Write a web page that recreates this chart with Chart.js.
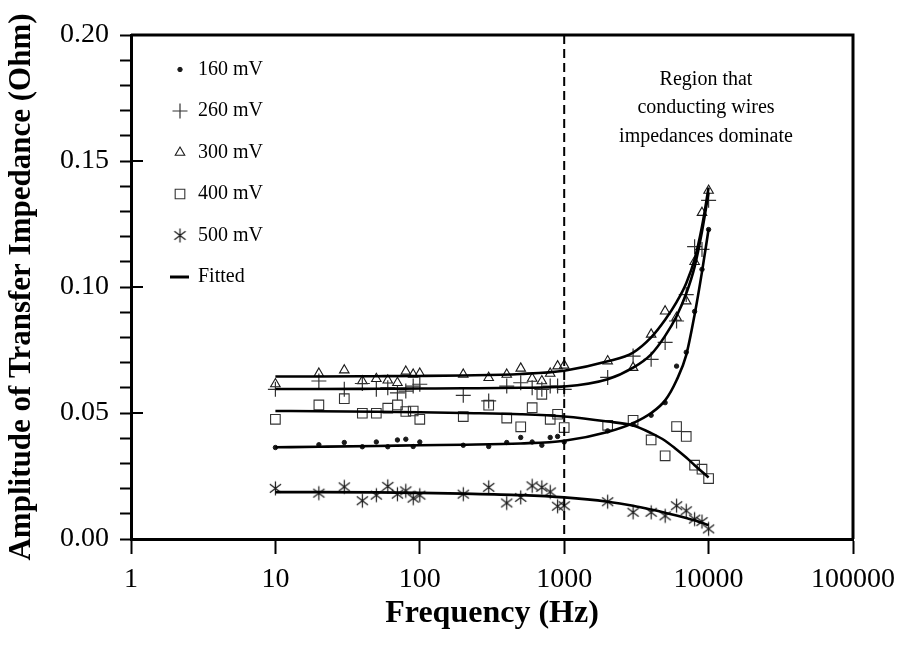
<!DOCTYPE html>
<html>
<head>
<meta charset="utf-8">
<script src="https://cdn.jsdelivr.net/npm/chart.js@4"></script>
<style>
  body { margin: 0; background: #fff; }
</style>
</head>
<body>
<canvas id="chart" width="904" height="661"></canvas>
<script>
// measured frequencies (Hz)
const freq = [10,20,30,40,50,60,70,80,90,100,200,300,400,500,600,700,800,900,1000,
  2000,3000,4000,5000,6000,7000,8000,9000,10000];

// measured amplitudes (Ohm)
const v160 = [0.0363,0.0374,0.0383,0.0366,0.0385,0.0366,0.0393,0.0396,0.0367,0.0385,
  0.0372,0.0367,0.0383,0.0403,0.0385,0.0372,0.0403,0.0407,0.0385,
  0.0429,0.0455,0.0491,0.0541,0.0686,0.0741,0.0903,0.1070,0.1228];
const v260 = [0.0594,0.0627,0.0594,0.0617,0.0594,0.0600,0.0580,0.0587,0.0607,0.0614,
  0.0570,0.0548,0.0607,0.0620,0.0600,0.0594,0.0607,0.0607,0.0594,
  0.0641,0.0726,0.0713,0.0780,0.0865,0.0970,0.1160,0.1149,0.1344];
const v300 = [0.0615,0.0657,0.0670,0.0627,0.0636,0.0630,0.0620,0.0665,0.0653,0.0657,
  0.0653,0.0640,0.0653,0.0677,0.0637,0.0627,0.0657,0.0686,0.0689,
  0.0706,0.0680,0.0812,0.0904,0.0879,0.0944,0.1100,0.1295,0.1383];
const v400 = [0.0475,0.0532,0.0557,0.0499,0.0499,0.0519,0.0532,0.0506,0.0508,0.0475,
  0.0486,0.0531,0.0480,0.0445,0.0521,0.0574,0.0475,0.0495,0.0442,
  0.0451,0.0471,0.0393,0.0330,0.0446,0.0407,0.0293,0.0277,0.0240];
const v500 = [0.0201,0.0182,0.0207,0.0152,0.0174,0.0209,0.0178,0.0191,0.0162,0.0174,
  0.0178,0.0205,0.0143,0.0165,0.0211,0.0205,0.0187,0.0130,0.0132,
  0.0148,0.0106,0.0106,0.0092,0.0132,0.0112,0.0079,0.0069,0.0040];

// fitted curves
const fitFreq = [10,20,50,100,200,500,1000,2000,3000,4000,5000,6000,7000,8000,9000,10000];
const fit160 = [0.0364,0.0366,0.0369,0.0372,0.0374,0.0379,0.0390,0.0425,0.0460,0.0500,0.0550,0.0630,0.0730,0.0890,0.1060,0.1230];
const fit260 = [0.0595,0.0595,0.0596,0.0597,0.0598,0.0600,0.0605,0.0634,0.0680,0.0733,0.0806,0.0884,0.0974,0.1080,0.1220,0.1375];
const fit300 = [0.0645,0.0645,0.0646,0.0647,0.0649,0.0655,0.0668,0.0705,0.0740,0.0800,0.0870,0.0940,0.1015,0.1110,0.1240,0.1395];
const fit400 = [0.0508,0.0507,0.0505,0.0503,0.0500,0.0495,0.0486,0.0466,0.0450,0.0420,0.0390,0.0355,0.0323,0.0293,0.0267,0.0244];
const fit500 = [0.0186,0.0186,0.0185,0.0183,0.0180,0.0174,0.0165,0.0148,0.0132,0.0117,0.0104,0.0093,0.0083,0.0074,0.0064,0.0055];

const seriesLabels = ['160 mV','260 mV','300 mV','400 mV','500 mV'];
const fitLabel = 'Fitted';
const xTicks = [1,10,100,1000,10000,100000];
const yMajor = [0, 0.05, 0.10, 0.15, 0.20];
const dividerFreq = 1000;
const noteLines = ['Region that','conducting wires','impedances dominate'];

const SERIF = '"Liberation Serif", "Times New Roman", serif';
const INK = '#1a1a1a';

function asterisk(r) {
  const s = Math.ceil(2 * r + 3);
  const c = document.createElement('canvas');
  c.width = s; c.height = s;
  const g = c.getContext('2d');
  const m = s / 2;
  g.strokeStyle = INK;
  g.lineWidth = 1.2;
  g.beginPath();
  g.moveTo(m, m - r); g.lineTo(m, m + r);
  g.moveTo(m - 0.8 * r, m - 0.62 * r); g.lineTo(m + 0.8 * r, m + 0.62 * r);
  g.moveTo(m - 0.8 * r, m + 0.62 * r); g.lineTo(m + 0.8 * r, m - 0.62 * r);
  g.stroke();
  return c;
}

const pts = (xs, ys) => xs.map((x, i) => ({x, y: ys[i]}));

const markers = [
  {pointStyle: 'circle', pointRadius: 2.2, backgroundColor: INK, borderColor: INK, borderWidth: 1},
  {pointStyle: 'cross', pointRadius: 7.5, backgroundColor: 'transparent', borderColor: '#333', borderWidth: 1.2},
  {pointStyle: 'triangle', pointRadius: 5.5, backgroundColor: 'transparent', borderColor: INK, borderWidth: 1.1},
  {pointStyle: 'rect', pointRadius: 6.8, backgroundColor: 'transparent', borderColor: '#333', borderWidth: 1.1},
  {pointStyle: asterisk(7), pointRadius: 7, backgroundColor: 'transparent', borderColor: '#333', borderWidth: 1}
];

const measured = [v160, v260, v300, v400, v500];
const fits = [fit160, fit260, fit300, fit400, fit500];

const datasets = [];
fits.forEach(f => {
  datasets.push({
    label: fitLabel,
    data: pts(fitFreq, f),
    showLine: true,
    borderColor: '#000',
    borderWidth: 2.6,
    pointRadius: 0,
    cubicInterpolationMode: 'monotone',
    fill: false
  });
});
measured.forEach((v, i) => {
  datasets.push(Object.assign({label: seriesLabels[i], data: pts(freq, v), showLine: false}, markers[i]));
});

const decor = {
  id: 'decor',
  afterDraw(chart) {
    const {ctx, chartArea: a, scales} = chart;
    ctx.save();
    // frame top/right
    ctx.strokeStyle = '#000';
    ctx.lineWidth = 3;
    ctx.beginPath();
    ctx.moveTo(a.left, a.top); ctx.lineTo(a.right, a.top); ctx.lineTo(a.right, a.bottom);
    ctx.stroke();
    // inner stubs of major y ticks
    ctx.lineWidth = 2;
    yMajor.forEach(v => {
      const y = scales.y.getPixelForValue(v);
      ctx.beginPath(); ctx.moveTo(a.left, y); ctx.lineTo(a.left + 12, y); ctx.stroke();
    });
    // dashed divider
    const xd = scales.x.getPixelForValue(dividerFreq);
    ctx.setLineDash([9, 5]);
    ctx.lineWidth = 2;
    ctx.beginPath(); ctx.moveTo(xd, a.top); ctx.lineTo(xd, a.bottom); ctx.stroke();
    ctx.setLineDash([]);
    // note
    ctx.fillStyle = '#000';
    ctx.font = '20px ' + SERIF;
    ctx.textAlign = 'center';
    ctx.textBaseline = 'alphabetic';
    noteLines.forEach((t, i) => ctx.fillText(t, a.right - 147, a.top + 50 + i * 28.3));
    // legend
    ctx.textAlign = 'left';
    ctx.textBaseline = 'middle';
    const lx = a.left + 49, tx = a.left + 67;
    seriesLabels.forEach((lab, i) => {
      const y = a.top + 34.5 + i * 41.5;
      const m = markers[i];
      ctx.strokeStyle = m.borderColor;
      ctx.fillStyle = m.backgroundColor;
      ctx.lineWidth = m.borderWidth;
      Chart.helpers.drawPoint(ctx, {pointStyle: m.pointStyle, radius: m.pointRadius, borderWidth: m.borderWidth, rotation: 0}, lx, y);
      ctx.fillStyle = '#000';
      ctx.fillText(lab, tx, y);
    });
    const fy = a.top + 34.5 + 5 * 41.5;
    ctx.strokeStyle = '#000';
    ctx.lineWidth = 3;
    ctx.beginPath(); ctx.moveTo(a.left + 39, fy); ctx.lineTo(a.left + 58, fy); ctx.stroke();
    ctx.fillStyle = '#000';
    ctx.fillText(fitLabel, tx, fy);
    ctx.restore();
  }
};

new Chart(document.getElementById('chart').getContext('2d'), {
  type: 'scatter',
  data: {datasets},
  plugins: [decor],
  options: {
    responsive: false,
    animation: false,
    layout: {padding: {left: 0, right: 49, top: 35, bottom: 0}},
    plugins: {legend: {display: false}, tooltip: {enabled: false}},
    scales: {
      x: {
        type: 'logarithmic',
        min: 1, max: 100000,
        afterBuildTicks: s => { s.ticks = xTicks.map(v => ({value: v})); },
        afterFit: s => { s.height = 122; },
        ticks: {
          callback: v => String(v),
          font: {family: SERIF, size: 28},
          color: '#000',
          padding: 9,
          maxRotation: 0,
          autoSkip: false
        },
        grid: {drawOnChartArea: false, tickLength: 15, tickWidth: 2, tickColor: '#000'},
        border: {color: '#000', width: 3},
        title: {
          display: true,
          text: 'Frequency (Hz)',
          font: {family: SERIF, size: 32, weight: 'bold'},
          color: '#000',
          padding: {top: 0, bottom: 28}
        }
      },
      y: {
        min: 0, max: 0.2,
        afterFit: s => { s.width = 131; },
        ticks: {
          stepSize: 0.01,
          autoSkip: false,
          callback: v => (Math.round(v * 100) % 5 === 0 ? v.toFixed(2) : ''),
          font: {family: SERIF, size: 28},
          color: '#000',
          padding: 11
        },
        grid: {drawOnChartArea: false, tickLength: 11, tickWidth: 2, tickColor: '#000'},
        border: {color: '#000', width: 3},
        title: {
          display: true,
          text: 'Amplitude of Transfer Impedance (Ohm)',
          font: {family: SERIF, size: 31, weight: 'bold'},
          color: '#000',
          padding: {top: 3, bottom: 0}
        }
      }
    }
  }
});
</script>
</body>
</html>
